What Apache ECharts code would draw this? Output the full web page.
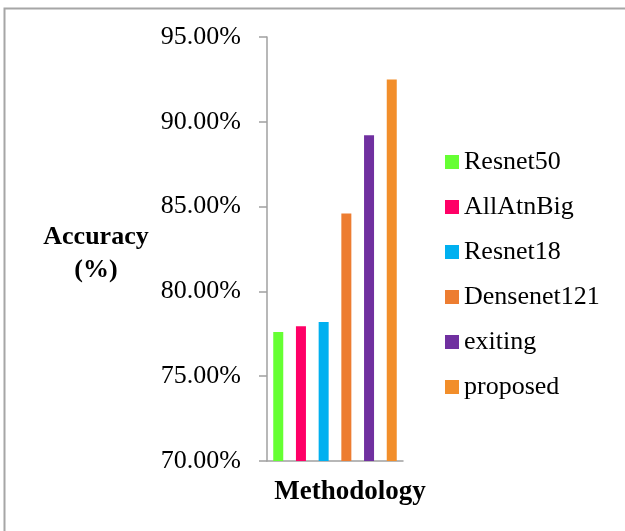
<!DOCTYPE html>
<html>
<head>
<meta charset="utf-8">
<script src="https://cdn.jsdelivr.net/npm/echarts@6/dist/echarts.min.js"></script>
<style>
  html, body { margin: 0; padding: 0; background: #fff; }
  #chart { width: 625px; height: 531px; }
</style>
</head>
<body>
<div id="chart"></div>
<script>
// Accuracy (%) of each method
const methods = ['Resnet50', 'AllAtnBig', 'Resnet18', 'Densenet121', 'exiting', 'proposed'];
const accuracy = [77.6, 77.95, 78.2, 84.6, 89.2, 92.5];
const barColors = ['#66ff33', '#ff0066', '#00b0f0', '#ed7d31', '#7030a0', '#f28e2a'];
const yTicks = { min: 70, max: 95, step: 5 };
const yTitle = 'Accuracy\n(%)';
const xTitle = 'Methodology';

const FONT = "'Liberation Serif', 'Times New Roman', serif";
const AXIS_GRAY = '#a0a0a0';

const chart = echarts.init(document.getElementById('chart'), null, { renderer: 'canvas' });

const series = methods.map((name, i) => ({
  name: name,
  type: 'bar',
  data: [accuracy[i]],
  barWidth: 10,
  barGap: '127%',
  itemStyle: { color: barColors[i] },
  animation: false
}));

chart.setOption({
  backgroundColor: '#ffffff',
  animation: false,
  textStyle: { fontFamily: FONT },
  grid: { left: 267, right: 222, top: 37, bottom: 70, containLabel: false },
  legend: {
    orient: 'vertical',
    left: 445,
    top: 149,
    padding: 0,
    itemWidth: 14,
    itemHeight: 14,
    itemGap: 19,
    icon: 'rect',
    selectedMode: false,
    textStyle: { fontFamily: FONT, fontSize: 26, color: '#000', lineHeight: 26 },
    data: methods
  },
  xAxis: {
    type: 'category',
    data: [''],
    axisLine: { lineStyle: { color: AXIS_GRAY, width: 1.5 } },
    axisTick: { show: false },
    axisLabel: { show: false },
    name: xTitle,
    nameLocation: 'middle',
    nameGap: 31,
    nameTextStyle: {
      fontFamily: FONT, fontSize: 27, fontWeight: 'bold', color: '#000',
      align: 'center', verticalAlign: 'middle', padding: [0, 0, 0, 30]
    }
  },
  yAxis: {
    type: 'value',
    min: yTicks.min,
    max: yTicks.max,
    interval: yTicks.step,
    splitLine: { show: false },
    axisLine: { show: true, lineStyle: { color: AXIS_GRAY, width: 1.5 } },
    axisTick: { show: true, inside: false, length: 8, lineStyle: { color: AXIS_GRAY, width: 1.5 } },
    axisLabel: {
      margin: 26,
      fontFamily: FONT, fontSize: 26, color: '#000',
      formatter: v => v.toFixed(2) + '%'
    }
  },
  graphic: [
    {
      // outer frame of the figure
      type: 'rect',
      silent: true,
      shape: { x: 4.5, y: 8.5, width: 700, height: 600 },
      style: { fill: 'none', stroke: '#a6a6a6', lineWidth: 2 }
    },
    {
      // y-axis title, set beside the tick labels
      type: 'text',
      silent: true,
      x: 96,
      y: 254,
      style: {
        text: yTitle,
        fontFamily: FONT, fontSize: 26, fontWeight: 'bold', fill: '#000',
        align: 'center', verticalAlign: 'middle', lineHeight: 33
      }
    }
  ],
  series: series
});
</script>
</body>
</html>
